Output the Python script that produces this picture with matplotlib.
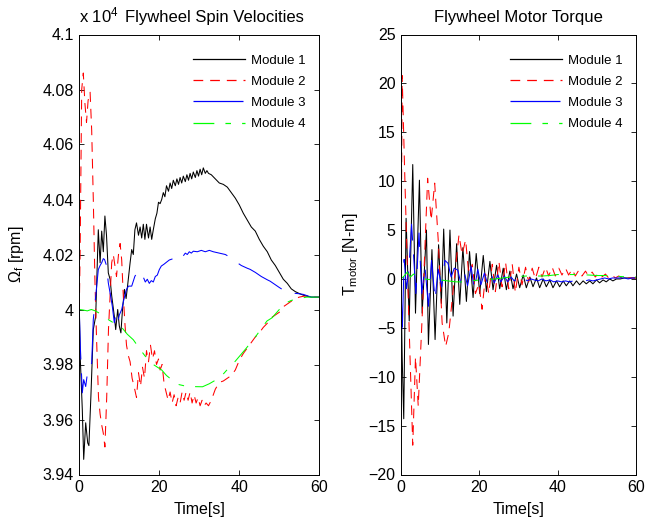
import numpy as np
import matplotlib
matplotlib.use("Agg")
from matplotlib import pyplot as plt

plt.rcParams['font.family'] = ['Liberation Sans', 'DejaVu Sans']
plt.rcParams['mathtext.default'] = 'regular'
plt.rcParams['lines.scale_dashes'] = False

# ---- flywheel spin velocities (x 10^4 rpm) ----
t_w1 = np.array([0, 0.25, 0.75, 1.1, 1.6, 2.1, 2.4, 2.9, 3.5, 4.1, 4.75, 5.2, 5.6, 6.0, 6.4, 6.8,
                 7.25, 7.7, 8.1, 8.75, 9.1, 9.6, 10.0, 10.4, 10.8, 11.3, 11.7, 12.1, 12.7, 13.1,
                 13.5, 13.9, 14.3, 14.8, 15.2, 15.6, 16.0, 16.4, 16.8, 17.3, 17.7, 18.1, 18.5,
                 19.0, 19.4, 19.8, 20.2, 20.6, 21.0, 21.4, 21.8, 22.3, 22.7, 23.1, 23.5, 24.0,
                 24.4, 24.8, 25.2, 25.6, 26.0, 26.5, 26.9, 27.3, 27.7, 28.1, 28.5, 29.0, 29.4,
                 29.8, 30.2, 30.6, 31.0, 31.5, 31.9, 32.3, 33, 34, 35, 36, 37, 38, 39, 40, 41,
                 42, 43, 44, 45, 46, 47, 48, 49, 50, 51, 52, 53, 54, 55, 56, 57, 58, 59, 60])
w1 = np.array([4.0, 3.982, 3.9636, 3.9455, 3.9588, 3.9515, 3.9505, 3.9685, 3.9927, 3.9976, 4.029,
               4.017, 4.0285, 4.021, 4.034, 4.027, 4.0133, 4.011, 4.005, 3.9976, 3.9927, 4.0,
               3.994, 3.9915, 4.0, 4.0073, 4.004, 4.009, 4.017, 4.0218, 4.020, 4.029, 4.0315,
               4.027, 4.030, 4.026, 4.031, 4.0255, 4.031, 4.026, 4.030, 4.0255, 4.029, 4.033,
               4.035, 4.039, 4.0385, 4.040, 4.0425, 4.041, 4.045, 4.043, 4.046, 4.044, 4.047,
               4.045, 4.0475, 4.0455, 4.048, 4.046, 4.0485, 4.0465, 4.049, 4.047, 4.0495,
               4.0475, 4.050, 4.048, 4.0505, 4.0485, 4.051, 4.049, 4.0515, 4.0495, 4.0505,
               4.0495, 4.049, 4.0475, 4.046, 4.0455, 4.0445, 4.0425, 4.0405, 4.038, 4.035,
               4.0325, 4.030, 4.0285, 4.0255, 4.023, 4.021, 4.018, 4.016, 4.0135, 4.011,
               4.0095, 4.0075, 4.0065, 4.0058, 4.0052, 4.0048, 4.0045, 4.0045, 4.0045])

t_w2 = np.array([0, 0.2, 0.6, 1.0, 1.4, 1.8, 2.2, 2.7, 3.1, 3.5, 3.9, 4.3, 4.8, 5.2, 5.6, 6.0,
                 6.4, 6.85, 7.3, 7.7, 8.1, 8.5, 8.9, 9.3, 9.8, 10.2, 10.6, 11.0, 11.4, 11.8,
                 12.3, 12.7, 13.2, 13.7, 14.3, 14.8, 15.3, 15.8, 16.3, 16.8, 17.3, 17.8, 18.3,
                 18.8, 19.3, 19.8, 20.2, 20.7, 21.2, 21.7, 22.2, 22.7, 23.2, 23.7, 24.2, 24.7,
                 25.2, 25.7, 26.2, 26.7, 27.2, 27.7, 28.2, 28.7, 29.2, 29.7, 30.2, 30.7, 31.2,
                 31.7, 32.3, 33, 34, 35, 36, 37, 38, 39, 40, 41, 42, 43, 44, 45, 46, 47, 48,
                 49, 50, 51, 52, 53, 54, 55, 56, 57, 58, 59, 60])
w2 = np.array([4.0, 4.02, 4.08, 4.086, 4.075, 4.068, 4.076, 4.079, 4.065, 4.04, 4.011, 3.99,
               3.968, 3.962, 3.958, 3.955, 3.950, 3.968, 3.993, 4.005, 4.017, 4.02, 4.016,
               4.012, 4.02, 4.024, 4.018, 4.005, 3.995, 3.987, 3.983, 3.981, 3.975, 3.972,
               3.968, 3.977, 3.972, 3.979, 3.975, 3.985, 3.981, 3.987, 3.982, 3.985, 3.980,
               3.982, 3.978, 3.980, 3.973, 3.970, 3.967, 3.970, 3.966, 3.969, 3.965, 3.968,
               3.966, 3.970, 3.967, 3.970, 3.967, 3.970, 3.966, 3.969, 3.966, 3.968, 3.965,
               3.967, 3.965, 3.966, 3.965, 3.967, 3.971, 3.9735, 3.974, 3.975, 3.976, 3.978,
               3.9815, 3.984, 3.986, 3.988, 3.990, 3.9915, 3.9935, 3.995, 3.997, 3.998, 3.999,
               4.001, 4.002, 4.003, 4.004, 4.0045, 4.0048, 4.005, 4.0048, 4.0045, 4.0045])

t_w3 = np.array([0, 0.25, 0.75, 1.1, 1.6, 2.1, 2.6, 3.1, 3.5, 4.1, 4.75, 5.2, 5.6, 6.0, 6.3,
                 6.8, 7.25, 7.7, 8.25, 8.75, 9.1, 9.6, 10.0, 10.6, 11.2, 11.8, 12.3, 13.1, 13.9,
                 14.5, 15.3, 16.0, 16.5, 17.0, 17.5, 18.0, 18.5, 19.0, 19.5, 20.0, 20.5, 21.2,
                 21.8, 22.5, 23.5, 24.3, 25, 25.5, 26, 26.5, 27, 27.5, 28, 28.5, 29.5, 30.5,
                 31.5, 32.5, 33.5, 35, 36.5, 37.7, 39, 40.5, 42, 42.7, 44, 45.5, 47, 47.7, 49,
                 50, 51.4, 53, 54.5, 56, 57, 58, 60])
w3 = np.array([4.0, 3.9867, 3.9697, 3.9745, 3.972, 3.9776, 3.978, 3.9806, 3.9964, 4.0048,
               4.0145, 4.016, 4.017, 4.0185, 4.0182, 4.016, 4.0097, 4.006, 4.0012, 3.9952,
               3.998, 3.9952, 3.998, 4.0, 4.004, 4.0073, 4.0085, 4.0085, 4.0121, 4.0134,
               4.014, 4.0118, 4.010, 4.011, 4.0095, 4.0105, 4.010, 4.012, 4.0125, 4.0145,
               4.0158, 4.0165, 4.0172, 4.018, 4.0185, 4.0194, 4.019, 4.020, 4.0195, 4.0205,
               4.020, 4.021, 4.0205, 4.0212, 4.021, 4.0215, 4.021, 4.0215, 4.021, 4.0205,
               4.020, 4.019, 4.0175, 4.016, 4.015, 4.0146, 4.0135, 4.012, 4.0108, 4.0103,
               4.009, 4.008, 4.0067, 4.006, 4.0058, 4.0055, 4.005, 4.0045, 4.0045])

t_w4 = np.array([0, 1, 2, 3, 4, 5.2, 6.5, 8.5, 10.6, 12, 13.5, 15.2, 16.8, 18.5, 20.6, 21.8,
                 23.5, 24.9, 27, 30.8, 32.5, 34.4, 36.1, 37.5, 39.0, 41.5, 44.0, 46.9, 48.2,
                 50, 51.4, 53, 55, 56.8, 60])
w4 = np.array([4.0, 3.9998, 3.9995, 4.0, 3.9995, 3.9985, 3.997, 3.9952, 3.9935, 3.991, 3.989,
               3.9855, 3.9824, 3.980, 3.978, 3.976, 3.974, 3.9727, 3.972, 3.9719, 3.973,
               3.9746, 3.9767, 3.979, 3.9812, 3.9855, 3.990, 3.9958, 3.997, 4.0, 4.0022,
               4.0033, 4.004, 4.0045, 4.0045])

# ---- flywheel motor torque (N-m) ----
t_q1 = np.array([0, 0.3, 0.7, 1.3, 2.1, 3.0, 3.7, 4.7, 5.4, 6.5, 7.0, 7.9, 8.7, 9.6, 10.3, 10.9,
                 11.7, 12.5, 13.3, 14.2, 15.0, 15.8, 16.7, 17.5, 18.4, 19.2, 20.1, 21.0, 21.8,
                 22.7, 23.5, 24.4, 25.2, 26.1, 26.9, 27.8, 28.6, 29.5, 30.3, 31.2, 32.0, 32.9,
                 33.7, 34.6, 35.4, 36.3, 37.1, 38.0, 38.8, 39.7, 40.5, 41.4, 42.2, 43.1, 43.9,
                 44.8, 45.6, 46.5, 47.3, 48.2, 49.0, 49.9, 50.7, 51.6, 52.4, 53.3, 54.1, 55.0,
                 56, 57, 58, 59, 60])
q1 = np.array([0, -8, -14.3, 6.2, -4.3, 11.7, -3.5, 10.1, -3.5, 5.0, -6.7, 3.0, -6.2, 3.5,
               -2.5, 5.1, -4.5, 5.0, -3.8, 3.6, -2.6, 3.2, -2.3, 2.8, -1.9, 2.6, -1.5, 2.4,
               -1.3, 1.8, -1.1, 1.4, -1.0, 1.1, -1.1, 0.8, -1.0, 0.5, -0.9, 0.4, -0.9, 0.2,
               -0.8, 0.1, -0.9, 0.0, -0.8, -0.1, -0.9, -0.2, -0.8, -0.2, -0.7, -0.2, -0.7,
               -0.2, -0.6, -0.2, -0.5, -0.2, -0.5, -0.1, -0.4, -0.1, -0.3, 0.0, -0.2, 0.0,
               0.0, 0.1, 0.1, 0.1, 0.1])

t_q2 = np.array([0, 0.3, 1.0, 2.0, 3.0, 3.7, 4.4, 5.5, 6.8, 7.7, 8.6, 9.5, 10.5, 11.4, 12.2,
                 13.1, 14.0, 14.8, 15.6, 16.5, 17.3, 18.2, 19.0, 19.9, 20.7, 21.6, 22.4, 23.3,
                 24.1, 25.0, 25.8, 26.7, 27.5, 28.4, 29.2, 30.1, 30.9, 31.8, 32.6, 33.5, 34.3,
                 35.2, 36.0, 36.9, 37.7, 38.6, 39.4, 40.3, 41.1, 42.0, 42.8, 43.7, 44.5, 45.4,
                 46.2, 47.1, 47.9, 48.8, 49.6, 50.5, 51.3, 52.2, 53.0, 53.9, 54.7, 55.6, 56.4,
                 57.3, 58.1, 59.0, 60])
q2 = np.array([0, 20.8, 10, -4, -17, -8, -13, -3, 10.3, 6.0, 9.8, 4, -4.5, -6.9, -5.5, -2,
               1.5, 4.5, 2.5, 4.0, 0.5, 1.5, -1.5, -0.5, -3.1, 0.5, -1.5, 1.5, -1.3, 1.8,
               -0.8, 1.7, -1.0, 1.5, -1.4, 1.2, -0.6, 1.2, -0.3, 1.1, 0.0, 1.2, 0.2, 1.2, 0.3,
               1.2, 0.3, 1.1, 0.4, 1.1, 0.4, 1.0, 0.3, 0.9, 0.3, 0.8, 0.3, 0.7, 0.2, 0.6, 0.2,
               0.5, 0.1, 0.4, 0.1, 0.3, 0.1, 0.2, 0.1, 0.1, 0.1])

t_q3 = np.array([0, 0.3, 0.8, 1.4, 2.0, 2.7, 3.3, 3.8, 4.6, 5.3, 6.1, 7.0, 7.8, 8.7, 9.5, 10.4,
                 11.2, 12.0, 12.8, 13.6, 14.5, 15.3, 16.2, 17.0, 17.9, 18.7, 19.6, 20.4, 21.3,
                 22.1, 23.0, 23.8, 24.7, 25.5, 26.4, 27.2, 28.1, 28.9, 29.8, 30.6, 31.5, 32.3,
                 33.2, 34.0, 35, 36, 37, 38, 39, 40, 41, 42, 43, 44, 45, 46, 47, 48, 49, 50,
                 51, 52, 53, 54, 55, 56, 57, 58, 59, 60])
q3 = np.array([0, -5.7, 2.0, -1.0, 1.0, 5.6, 1.8, -1.5, 4.7, -1.5, 1.3, -2.8, 1.9, -2.1, 1.0,
               -0.8, 1.9, 1.6, 0.2, 1.1, 0.9, -0.5, 0.6, -0.7, 1.3, -1.1, 1.0, -0.6, 0.6,
               -0.5, 0.5, -0.4, 0.4, -0.3, 0.3, -0.3, 0.2, -0.2, 0.1, -0.3, 0.0, -0.2, 0.0,
               -0.1, -0.2, 0.0, -0.2, -0.1, -0.3, -0.2, -0.3, -0.2, -0.3, -0.2, -0.3, -0.2,
               -0.2, -0.1, -0.2, -0.1, 0.0, 0.1, 0.0, 0.1, 0.1, 0.1, 0.1, 0.0, 0.1, 0.1])

t_q4 = np.array([0, 0.8, 1.6, 2.4, 3.2, 4.0, 6, 8, 10, 12, 14, 16, 18, 20, 22, 24, 26, 28, 30,
                 32, 34, 36, 38, 40, 42, 44, 46, 48, 50, 52, 54, 56, 58, 60])
q4 = np.array([0, 0.3, 0.7, 0.2, 0.5, 0.2, 0.0, -0.1, -0.1, -0.2, -0.3, -0.3, -0.2, -0.1,
               -0.05, 0.0, 0.1, 0.2, 0.25, 0.3, 0.3, 0.3, 0.35, 0.45, 0.45, 0.45, 0.45, 0.4,
               0.35, 0.35, 0.3, 0.25, 0.2, 0.2])

labels = ['Module 1', 'Module 2', 'Module 3', 'Module 4']
colors = ['#000000', '#ff0000', '#0000ff', '#00ff00']
styles = ['-', (0, (7, 5)), (0, (36, 10)), (0, (15, 8, 4, 8))]

fig = plt.figure(figsize=(6.45, 5.2), dpi=100)
ax1 = fig.add_axes([79.3 / 645, 45.5 / 520, 240 / 645, 440 / 520])
ax2 = fig.add_axes([401 / 645, 45.5 / 520, 235 / 645, 440 / 520])

for tt, yy, lab, c, ls in zip([t_w1, t_w2, t_w3, t_w4], [w1, w2, w3, w4], labels, colors, styles):
    ax1.plot(tt, yy, color=c, linestyle=ls, lw=0.75, label=lab)
for tt, yy, lab, c, ls in zip([t_q1, t_q2, t_q3, t_q4], [q1, q2, q3, q4], labels, colors, styles):
    ax2.plot(tt, yy, color=c, linestyle=ls, lw=0.75, label=lab)

ax1.set_xlim(0, 60)
ax1.set_ylim(3.94, 4.1)
ax1.set_yticks(np.arange(3.94, 4.1001, 0.02))
ax1.set_yticklabels(['3.94', '3.96', '3.98', '4', '4.02', '4.04', '4.06', '4.08', '4.1'])
ax2.set_xlim(0, 60)
ax2.set_ylim(-20, 25)
ax2.set_yticks(np.arange(-20, 26, 5))

for ax in (ax1, ax2):
    ax.set_xticks([0, 20, 40, 60])
    ax.tick_params(direction='in', top=True, right=True, length=3.6, width=0.6,
                   labelsize=11.5, pad=4)
    for sp in ax.spines.values():
        sp.set_linewidth(0.7)
    ax.set_xlabel('Time[s]', fontsize=11.5, labelpad=5)
    leg = ax.legend(loc='upper right', frameon=False, fontsize=9.5, handlelength=3.9,
                    handletextpad=0.5, labelspacing=0.68, borderpad=0, borderaxespad=0,
                    bbox_to_anchor=(0.945, 0.955))
    for ln in leg.get_lines():
        ln.set_linewidth(0.9)

ax1.set_ylabel(r'$\Omega_f$ [rpm]', fontsize=11.5)
ax1.yaxis.set_label_coords(-0.22, 0.5)
ax2.set_ylabel(r'T$_{motor}$ [N-m]', fontsize=11.5)
ax2.yaxis.set_label_coords(-0.175, 0.5)

ax1.text(0.561, 1.028, 'Flywheel Spin Velocities', transform=ax1.transAxes,
         ha='center', va='baseline', fontsize=12)
ax1.text(0.0, 1.028, r'x 10$^4$', transform=ax1.transAxes,
         ha='left', va='baseline', fontsize=12)
ax2.text(0.5, 1.028, 'Flywheel Motor Torque', transform=ax2.transAxes,
         ha='center', va='baseline', fontsize=12)

fig.savefig('out.png', dpi=100)
